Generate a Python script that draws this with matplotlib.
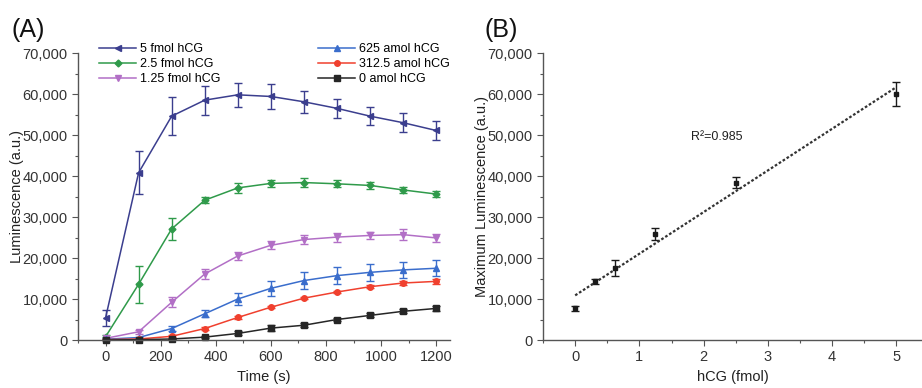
import numpy as np
import matplotlib
matplotlib.use("Agg")
import matplotlib.pyplot as plt
from matplotlib.ticker import FuncFormatter, MultipleLocator

plt.rcParams['font.family'] = ['Liberation Sans', 'DejaVu Sans']

# panel A: luminescence vs time
time_s = [0, 120, 240, 360, 480, 600, 720, 840, 960, 1080, 1200]
labels = ["5 fmol hCG", "2.5 fmol hCG", "1.25 fmol hCG",
          "625 amol hCG", "312.5 amol hCG", "0 amol hCG"]
lum_5f = [5400, 40800, 54600, 58500, 59800, 59400, 58100, 56500, 54600, 53000, 51100]
err_5f = [2000, 5200, 4700, 3500, 3000, 3100, 2700, 2400, 2200, 2300, 2200]
lum_2p5f = [800, 13600, 27100, 34100, 37100, 38200, 38400, 38100, 37700, 36600, 35600]
err_2p5f = [300, 4500, 2600, 800, 1200, 900, 1000, 900, 800, 800, 700]
lum_1p25f = [400, 2000, 9200, 16100, 20500, 23100, 24500, 25100, 25500, 25700, 24900]
err_1p25f = [200, 500, 1200, 1200, 1000, 1000, 1100, 1100, 800, 1400, 1000]
lum_625a = [200, 600, 2800, 6400, 10000, 12600, 14500, 15700, 16500, 17100, 17500]
err_625a = [100, 200, 500, 900, 1500, 1800, 2000, 2000, 2000, 2000, 2000]
lum_312a = [100, 250, 900, 2800, 5500, 8000, 10200, 11700, 13000, 13900, 14300]
err_312a = [50, 100, 200, 300, 300, 300, 300, 300, 300, 500, 700]
lum_0a = [0, 80, 250, 700, 1600, 2900, 3600, 5000, 6000, 7000, 7700]
err_0a = [50, 50, 100, 200, 500, 800, 500, 400, 500, 500, 700]

# panel B: maximum luminescence vs hCG amount
hcg_fmol = [0, 0.3125, 0.625, 1.25, 2.5, 5]
max_lum = [7700, 14300, 17500, 25800, 38400, 60000]
max_err = [700, 600, 2000, 1500, 1300, 3000]

colors = ["#3b3e8e", "#2f9a4a", "#b26fc6", "#3a6dcc", "#f0402e", "#262626"]
markers = ["<", "D", "v", "^", "o", "s"]
msizes = [4, 3.5, 5, 5, 4, 4]

fmt = FuncFormatter(lambda v, p: "{:,.0f}".format(v))
tick_color = "#333333"


def style_axis(ax):
    ax.spines['top'].set_visible(False)
    ax.spines['right'].set_visible(False)
    for s in ['left', 'bottom']:
        ax.spines[s].set_color("#555555")
        ax.spines[s].set_linewidth(1.0)
    ax.set_ylim(0, 70000)
    ax.yaxis.set_major_locator(MultipleLocator(10000))
    ax.yaxis.set_minor_locator(MultipleLocator(5000))
    ax.yaxis.set_major_formatter(fmt)
    ax.tick_params(which='major', length=4, width=0.8, color="#555555",
                   labelsize=10.5, labelcolor=tick_color)
    ax.tick_params(which='minor', length=2.5, width=0.8, color="#555555")


fig = plt.figure(figsize=(9.22, 3.88), dpi=100)
axA = fig.add_axes([0.0846, 0.1237, 0.4034, 0.7397])
axB = fig.add_axes([0.589, 0.1237, 0.411, 0.7397])

seriesA = [(lum_5f, err_5f), (lum_2p5f, err_2p5f), (lum_1p25f, err_1p25f),
           (lum_625a, err_625a), (lum_312a, err_312a), (lum_0a, err_0a)]
handles = []
for (y, e), lab, c, m, ms in zip(seriesA, labels, colors, markers, msizes):
    cont = axA.errorbar(time_s, y, yerr=e, color=c, marker=m, markersize=ms,
                        linewidth=1.1, elinewidth=1.0, capsize=3, capthick=1.0,
                        label=lab, clip_on=False)
    handles.append(cont.lines[0])

style_axis(axA)
axA.set_xlim(-100, 1250)
axA.xaxis.set_major_locator(MultipleLocator(200))
axA.xaxis.set_minor_locator(MultipleLocator(100))
axA.set_xlabel("Time (s)", fontsize=10.5, color="#222222")
axA.set_ylabel("Luminescence (a.u.)", fontsize=10.5, color="#222222")
axA.yaxis.set_label_coords(-0.146, 0.5)
axA.legend(handles, labels, ncol=2, loc='lower left', bbox_to_anchor=(0.056, 0.887),
           frameon=False, fontsize=9, handlelength=3, handletextpad=0.3,
           columnspacing=7.8, labelspacing=0.25, borderpad=0, borderaxespad=0)

# panel B
axB.errorbar(hcg_fmol, max_lum, yerr=max_err, fmt='s', color="#1a1a1a",
             markersize=3.5, elinewidth=1.0, capsize=3, capthick=1.0)
slope, icpt = np.polyfit(hcg_fmol, max_lum, 1)
xf = np.linspace(0, 5, 50)
axB.plot(xf, slope * xf + icpt, linestyle=(0, (1.2, 0.9)), color="#333333", linewidth=1.6)
axB.text(1.81, 49500, "R²=0.985", fontsize=9, color="#222222", va='center')

style_axis(axB)
axB.set_xlim(-0.5, 5.4)
axB.xaxis.set_major_locator(MultipleLocator(1))
axB.xaxis.set_minor_locator(MultipleLocator(0.5))
axB.set_xlabel("hCG (fmol)", fontsize=10.5, color="#222222")
axB.set_ylabel("Maximum Luminescence (a.u.)", fontsize=10.5, color="#222222")
axB.yaxis.set_label_coords(-0.143, 0.5)

fig.text(0.012, 0.905, "(A)", fontsize=18, color="#111111")
fig.text(0.525, 0.905, "(B)", fontsize=18, color="#111111")

fig.savefig("out.png", dpi=100)
